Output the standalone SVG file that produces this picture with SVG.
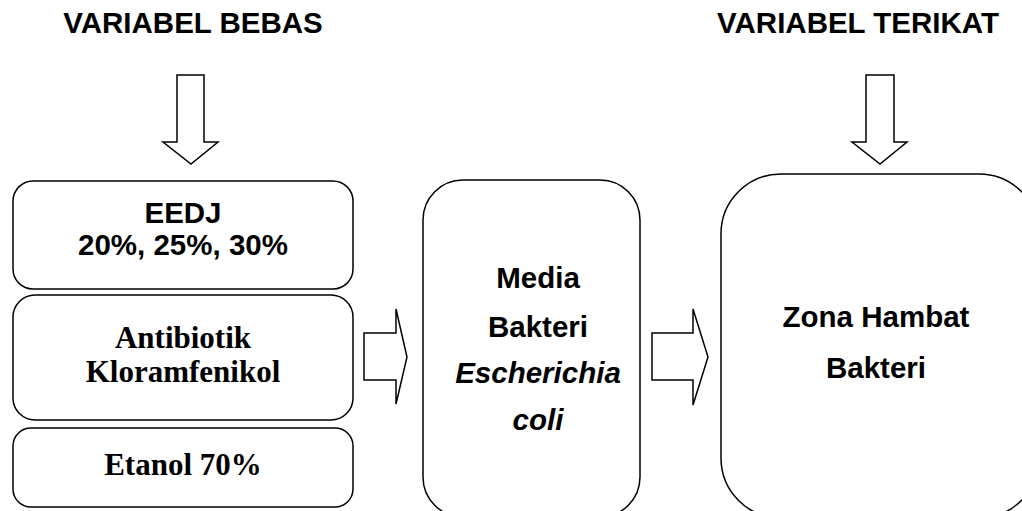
<svg xmlns="http://www.w3.org/2000/svg" width="1022" height="511" viewBox="0 0 1022 511">
<style>
.box{fill:#fff;stroke:#000;stroke-width:1.5}
.arr{fill:#fff;stroke:#000;stroke-width:1.5;stroke-linejoin:miter}
.sans{font-family:"Liberation Sans",Arial,sans-serif;font-weight:bold;font-size:29.5px;fill:#000;text-anchor:middle}
.serif{font-family:"Liberation Serif","Times New Roman",serif;font-weight:bold;font-size:31px;fill:#000;text-anchor:middle}
.it{font-style:italic}
</style>
<rect width="1022" height="511" fill="#fff"/>
<g id="title-bebas"><text class="sans" x="193" y="33">VARIABEL BEBAS</text></g>
<g id="title-terikat"><text class="sans" x="858" y="33">VARIABEL TERIKAT</text></g>
<g id="node-eedj">
<rect class="box" x="13" y="181" width="340" height="108" rx="20"/>
<text class="sans" x="183" y="223">EEDJ</text>
<text class="sans" x="183" y="255">20%, 25%, 30%</text>
</g>
<g id="node-antibiotik">
<rect class="box" x="13" y="295" width="340" height="125" rx="22"/>
<text class="serif" x="183" y="348">Antibiotik</text>
<text class="serif" x="183" y="382">Kloramfenikol</text>
</g>
<g id="node-etanol">
<rect class="box" x="13" y="428" width="340" height="79" rx="18"/>
<text class="serif" x="183" y="475">Etanol 70%</text>
</g>
<g id="node-media">
<rect class="box" x="423" y="180" width="217" height="337" rx="40"/>
<text class="sans" x="538" y="288">Media</text>
<text class="sans" x="538" y="337">Bakteri</text>
<text class="sans it" x="538" y="383">Escherichia</text>
<text class="sans it" x="538" y="430">coli</text>
</g>
<g id="node-zona">
<rect class="box" x="721" y="174" width="318" height="344" rx="60"/>
<text class="sans" x="876" y="327">Zona Hambat</text>
<text class="sans" x="876" y="378">Bakteri</text>
</g>
<g id="connectors">
<polygon class="arr" points="177,75 204,75 204,142 218,142 191,164 163,142 177,142"/>
<polygon class="arr" points="866,75 894,75 894,142 907,142 880,164 852,142 866,142"/>
<polygon class="arr" points="364,333 396,333 396,309 407,357 396,404 396,380 364,380"/>
<polygon class="arr" points="652,333 693,333 693,309 708,357 693,405 693,380 652,380"/>
</g>
</svg>
